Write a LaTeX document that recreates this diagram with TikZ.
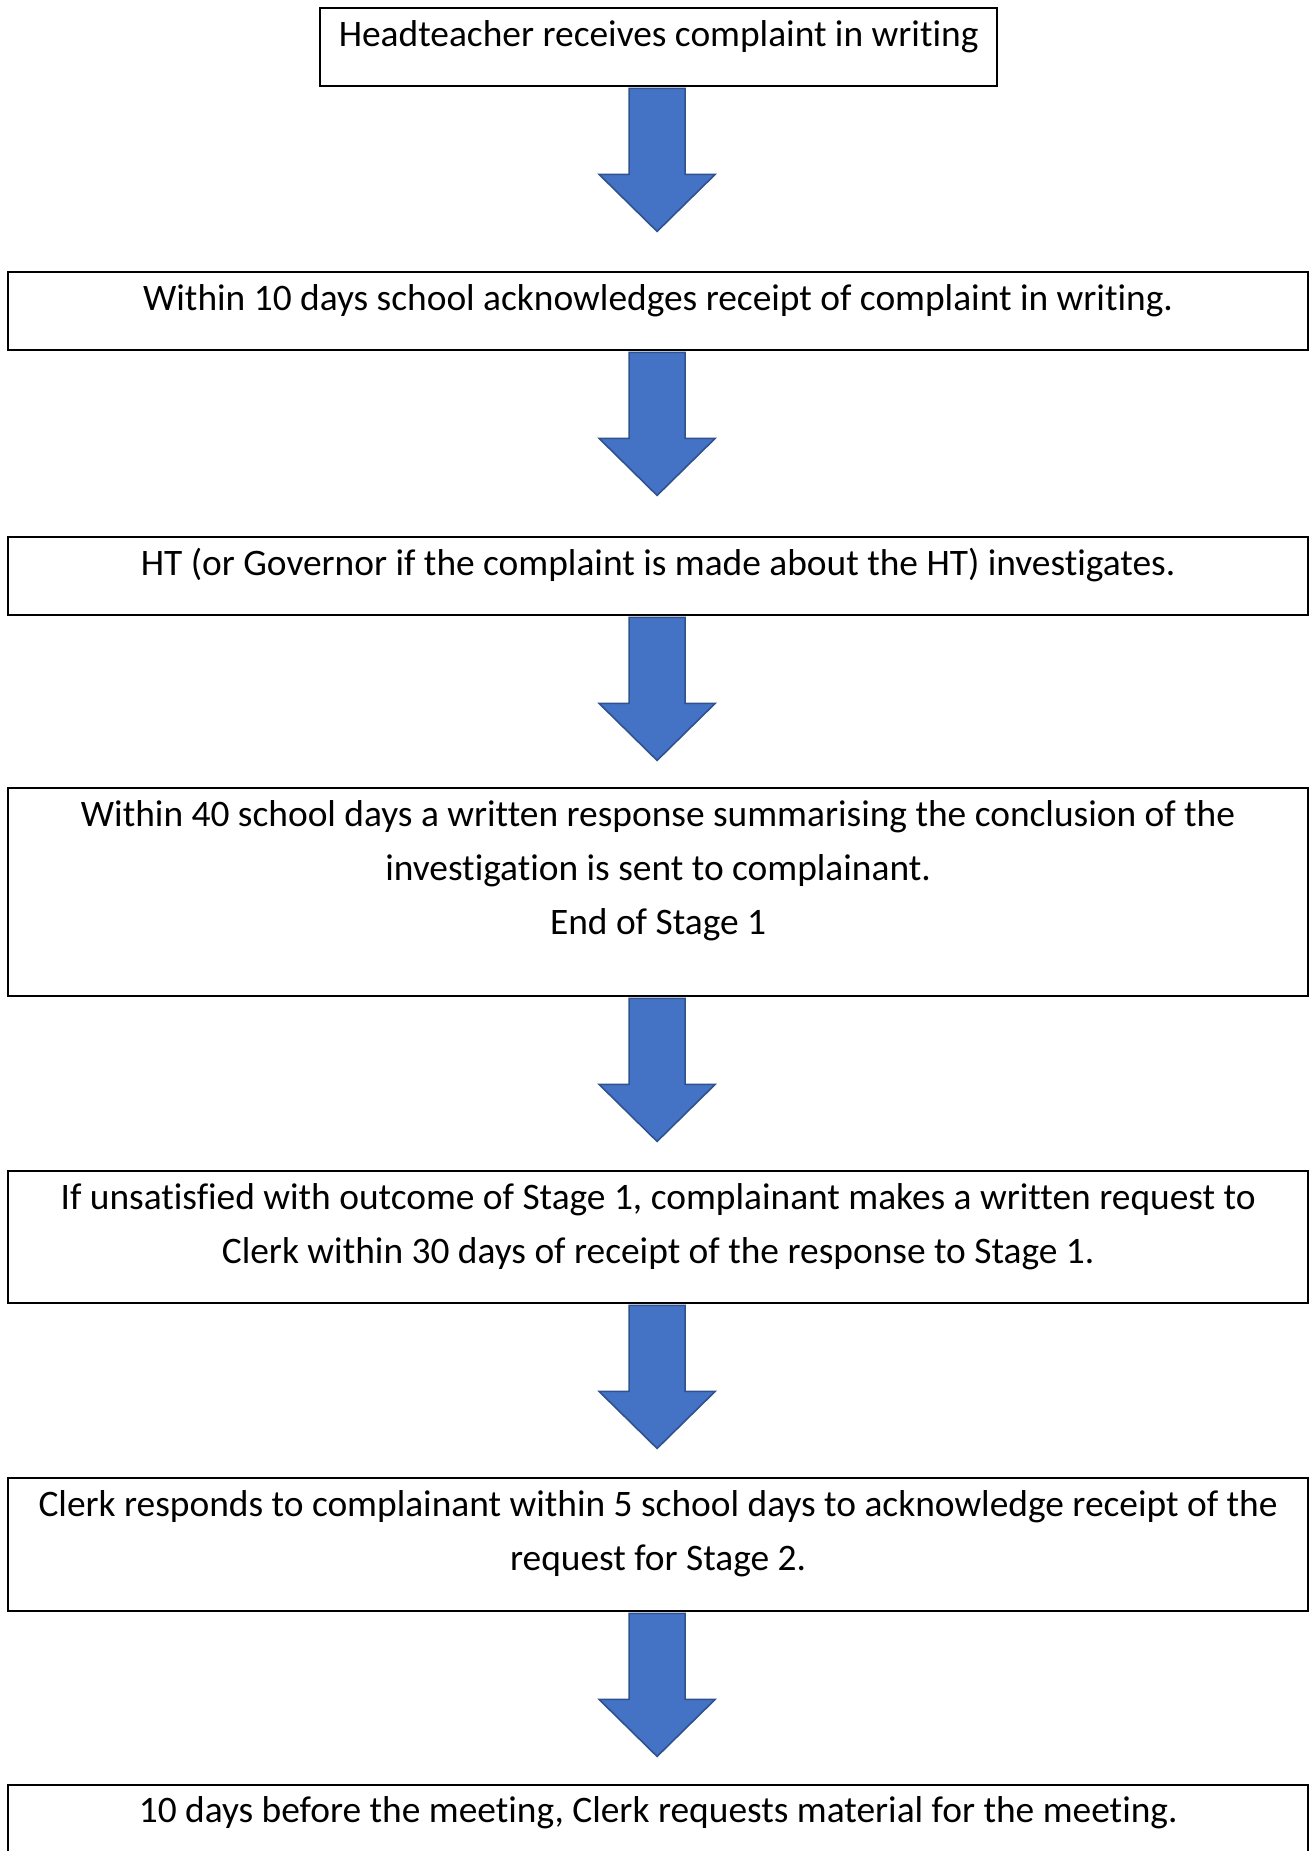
\documentclass[tikz,border=0pt]{standalone}
\usepackage{fontspec}
\setmainfont{Carlito}[Ligatures={NoCommon}]
\usetikzlibrary{calc}
\definecolor{arrowfill}{HTML}{4472C4}
\definecolor{arrowline}{HTML}{2F528F}
\tikzset{
  stagebox/.style={draw=black, line width=2.2pt, rectangle, inner sep=0pt, anchor=north west},
  stagetext/.style={anchor=north, inner sep=0pt, align=center, font=\fontsize{37.4}{54}\selectfont},
  blockarrow/.pic={
    \filldraw[fill=arrowfill, draw=arrowline, line width=1.6pt, line join=miter]
      (-28,0) -- (-28,86) -- (-58,86) -- (0,143) -- (58,86) -- (28,86) -- (28,0) -- cycle;
  }
}
\begin{document}
\begin{tikzpicture}[x=1pt, y=-1pt]
\useasboundingbox (0,0) rectangle (1309,1851);
\clip (0,0) rectangle (1309,1851);
\fill[white] (0,0) rectangle (1309,1851);

% boxes
\node[stagebox, minimum width=677pt, minimum height=78pt] (b1) at (319,7) {};
\node[stagebox, minimum width=1300pt, minimum height=78pt] (b2) at (7,271) {};
\node[stagebox, minimum width=1300pt, minimum height=78pt] (b3) at (7,536) {};
\node[stagebox, minimum width=1300pt, minimum height=208pt] (b4) at (7,787) {};
\node[stagebox, minimum width=1300pt, minimum height=132pt] (b5) at (7,1170) {};
\node[stagebox, minimum width=1300pt, minimum height=133pt] (b6) at (7,1477) {};
\node[stagebox, minimum width=1300pt, minimum height=150pt] (b7) at (7,1783.5) {};

% texts
\node[stagetext] (t1) at ($(b1.north)+(0,1.2)$) {\strut Headteacher receives complaint in writing};
\node[stagetext] (t2) at ($(b2.north)+(0,1.2)$) {\strut Within 10 days school acknowledges receipt of complaint in writing.};
\node[stagetext] (t3) at ($(b3.north)+(0,1.2)$) {\strut HT (or Governor if the complaint is made about the HT) investigates.};
\node[stagetext] (t4) at ($(b4.north)+(0,1.2)$) {\strut Within 40 school days a written response summarising the conclusion of the\\\strut investigation is sent to complainant.\\\strut End of Stage 1};
\node[stagetext] (t5) at ($(b5.north)+(0,1.2)$) {\strut If unsatisfied with outcome of Stage 1, complainant makes a written request to\\\strut Clerk within 30 days of receipt of the response to Stage 1.};
\node[stagetext] (t6) at ($(b6.north)+(0,1.2)$) {\strut Clerk responds to complainant within 5 school days to acknowledge receipt of the\\\strut request for Stage 2.};
\node[stagetext] (t7) at ($(b7.north)+(0,1.2)$) {\strut 10 days before the meeting, Clerk requests material for the meeting.};

% block arrows
\pic at ($(b1.south)+(-1.5,1.2)$) {blockarrow};
\pic at ($(b2.south)+(-1,1.2)$) {blockarrow};
\pic at ($(b3.south)+(-1,1.2)$) {blockarrow};
\pic at ($(b4.south)+(-1,1.2)$) {blockarrow};
\pic at ($(b5.south)+(-1,1.2)$) {blockarrow};
\pic at ($(b6.south)+(-1,1.2)$) {blockarrow};
\end{tikzpicture}
\end{document}
